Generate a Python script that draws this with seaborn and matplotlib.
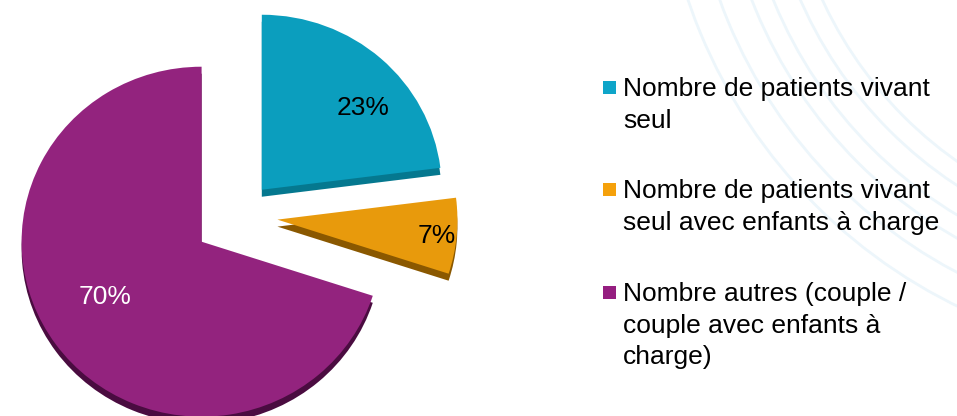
import numpy as np
import matplotlib
matplotlib.use("Agg")
import matplotlib.pyplot as plt
import seaborn as sns
from matplotlib.patches import Arc, Rectangle

labels = ["Nombre de patients vivant\nseul",
          "Nombre de patients vivant\nseul avec enfants à charge",
          "Nombre autres (couple /\ncouple avec enfants à\ncharge)"]
shares = [23, 7, 70]
top_colors = ["#0B9EBE", "#E89A0C", "#93237E"]
side_colors = ["#05788F", "#8A5800", "#4A0C40"]
legend_colors = ["#0EA5C9", "#F5A10B", "#951E80"]
pct_colors = ["black", "black", "white"]
explode = [0.20, 0.22, 0.25]

sns.set_theme(style="white")
plt.rcParams["font.family"] = ["Liberation Sans", "DejaVu Sans"]
plt.rcParams["text.color"] = "black"

W, H, DPI = 957, 416, 100
fig = plt.figure(figsize=(W / DPI, H / DPI), dpi=DPI)
fig.patch.set_facecolor("white")

# background axes in pixel coordinates (y down)
bg = fig.add_axes([0, 0, 1, 1], zorder=0)
bg.set_xlim(0, W)
bg.set_ylim(H, 0)
bg.axis("off")
# faint decorative arcs of the slide background
for r in [405, 425, 450, 470, 500, 530]:
    bg.add_patch(Arc((1190, -170), 2 * r, 2 * r, color="#EDF6FB", lw=2))

# pie axes: left half, ~180 px per unit in x, 175 in y
sx, sy = 180, 175
cx, cy = 238, 216
ax_w = 478.5
ax = fig.add_axes([0, 0, ax_w / W, 1], zorder=1)
ax.patch.set_alpha(0)

depth = 7 / sy
common = dict(startangle=90, counterclock=False, explode=explode, radius=1,
              wedgeprops=dict(linewidth=0))
ax.pie(shares, colors=side_colors, center=(0, -depth), **common)
wedges, _, autotexts = ax.pie(shares, colors=top_colors, autopct="%1.0f%%",
                              textprops=dict(fontsize=19), **common)

# label placement relative to each wedge (angle shift from mid, radial distance)
label_turn = [-9, -0.5, -5.5]
label_r = [0.73, 0.89, 0.62]
for w, t, col, dt, r in zip(wedges, autotexts, pct_colors, label_turn, label_r):
    mid = np.deg2rad((w.theta1 + w.theta2) / 2 + dt)
    x0, y0 = w.center
    t.set_position((x0 + r * np.cos(mid), y0 + r * np.sin(mid)))
    t.set_color(col)

ax.set_aspect("auto")
ax.set_xlim(-cx / sx, (ax_w - cx) / sx)
ax.set_ylim(cy / sy - H / sy, cy / sy)
ax.axis("off")

# legend: square marker level with the first line of each entry
entry_top = [77, 179, 282]
for lab, col, yt in zip(labels, legend_colors, entry_top):
    bg.add_patch(Rectangle((603, yt + 4), 13, 12.5, color=col, lw=0))
    bg.text(623, yt, lab, fontsize=19, va="top", ha="left",
            linespacing=1.4, color="black")

fig.savefig("out.png", dpi=DPI)
